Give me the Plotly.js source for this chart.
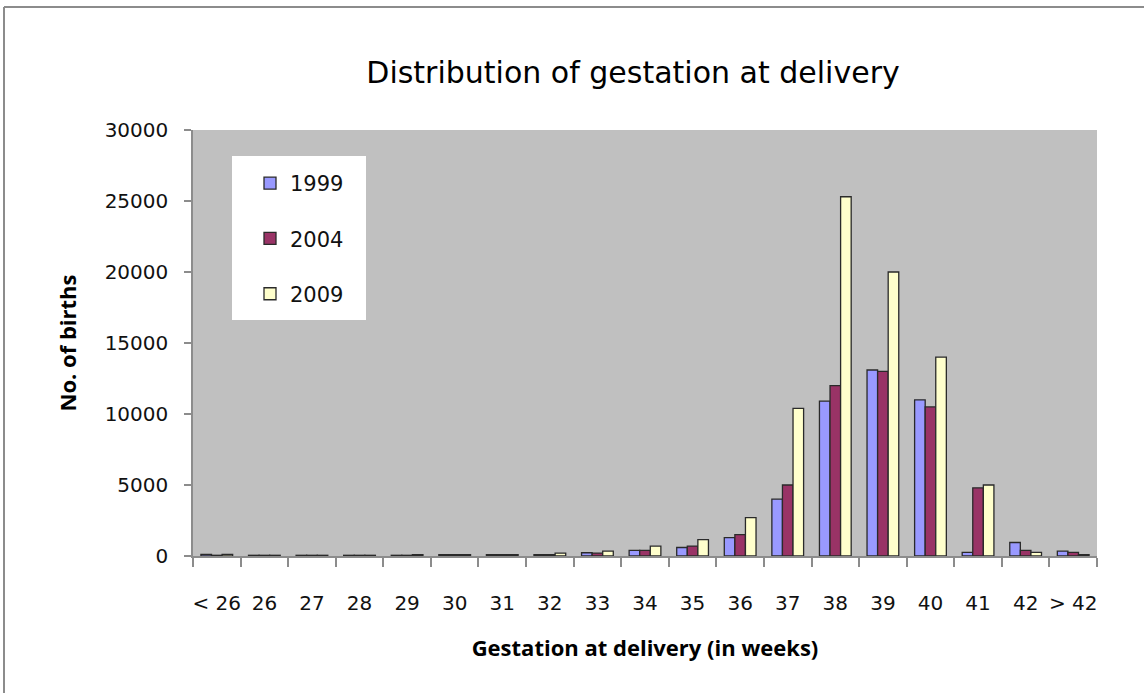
<!DOCTYPE html>
<html>
<head>
<meta charset="utf-8">
<script src="https://cdn.plot.ly/plotly-3.0.1.min.js"></script>
<style>
html,body{margin:0;padding:0;background:#fff;}
#chart{width:1144px;height:693px;}
</style>
</head>
<body>
<div id="chart"></div>
<script>
// Gestation week categories
const weeks = ["< 26","26","27","28","29","30","31","32","33","34","35","36","37","38","39","40","41","42","> 42"];
// Number of births per year
const births1999 = [120, 50, 50, 50, 50, 100, 100, 100, 230, 400, 600, 1300, 4000, 10900, 13100, 11000, 250, 950, 350];
const births2004 = [50, 50, 50, 50, 50, 100, 100, 100, 200, 400, 700, 1500, 5000, 12000, 13000, 10500, 4800, 400, 250];
const births2009 = [120, 50, 50, 50, 100, 100, 100, 200, 350, 700, 1150, 2700, 10400, 25300, 20000, 14000, 5000, 250, 100];
const seriesNames = ["1999", "2004", "2009"];
const seriesColors = ["#9999FF", "#993366", "#FFFFCC"];

const L = 193, R = 1097, T = 130, B = 556;
const px = v => (v - L) / (R - L);
const py = v => (B - v) / (B - T);

const series = [births1999, births2004, births2009];
const traces = series.map((vals, i) => ({
  type: "bar",
  name: seriesNames[i],
  x: weeks,
  y: vals,
  legendgroup: "g" + i,
  marker: {color: seriesColors[i], line: {color: "#2a2a2a", width: 1.3}},
  hoverinfo: "x+y+name"
}));

const axisFont = {family: "DejaVu Sans, sans-serif", size: 20, color: "#111"};

const layout = {
  width: 1144, height: 693,
  margin: {l: L, r: 1144 - R, t: T, b: 693 - B},
  paper_bgcolor: "#ffffff",
  plot_bgcolor: "#C0C0C0",
  barmode: "group",
  bargap: 0.333,
  bargroupgap: 0,
  showlegend: true,
  title: {
    text: "Distribution of gestation at delivery",
    font: {family: "DejaVu Sans, sans-serif", size: 30, color: "#000", weight: 500},
    x: 633 / 1144, xref: "container", xanchor: "center",
    y: 1 - 72 / 693, yref: "container", yanchor: "middle"
  },
  xaxis: {
    type: "category",
    tickson: "boundaries",
    tickangle: 0,
    ticks: "outside", ticklen: 9, tickcolor: "#8c8c8c", tickwidth: 1.5,
    showline: true, linecolor: "#8c8c8c", linewidth: 1.5,
    showgrid: false, zeroline: false,
    tickfont: axisFont,
    ticklabelstandoff: 28,
    title: {text: "<b>Gestation at delivery (in weeks)</b>", font: {family: "Open Sans, sans-serif", size: 22, color: "#000"}, standoff: 27},
    fixedrange: true
  },
  yaxis: {
    range: [0, 30000],
    tickvals: [0, 5000, 10000, 15000, 20000, 25000, 30000],
    tickformat: "d",
    ticks: "outside", ticklen: 7, tickcolor: "#8c8c8c", tickwidth: 1.5,
    showline: true, linecolor: "#8c8c8c", linewidth: 1.5,
    showgrid: false, zeroline: false,
    tickfont: axisFont,
    ticklabelstandoff: 12,
    title: {text: "<b>No. of births</b>", font: {family: "Open Sans, sans-serif", size: 22, color: "#000"}, standoff: 22},
    fixedrange: true
  },
  legend: {
    x: px(250), y: py(163), xanchor: "left", yanchor: "top",
    bgcolor: "rgba(0,0,0,0)", borderwidth: 0,
    font: {family: "DejaVu Sans, sans-serif", size: 21, color: "#111"},
    traceorder: "grouped", tracegroupgap: 25
  },
  shapes: [
    {type: "rect", xref: "paper", yref: "paper", layer: "below",
     x0: px(232), x1: px(366), y0: py(320), y1: py(156),
     fillcolor: "#ffffff", line: {width: 0}},
    {type: "line", xref: "paper", yref: "paper",
     x0: px(4), x1: px(1144), y0: py(7), y1: py(7),
     line: {color: "#8c8c8c", width: 2}},
    {type: "line", xref: "paper", yref: "paper",
     x0: px(4), x1: px(4), y0: py(7), y1: py(693),
     line: {color: "#8c8c8c", width: 2}}
  ]
};

Plotly.newPlot("chart", traces, layout, {displayModeBar: false, responsive: false});
</script>
</body>
</html>
